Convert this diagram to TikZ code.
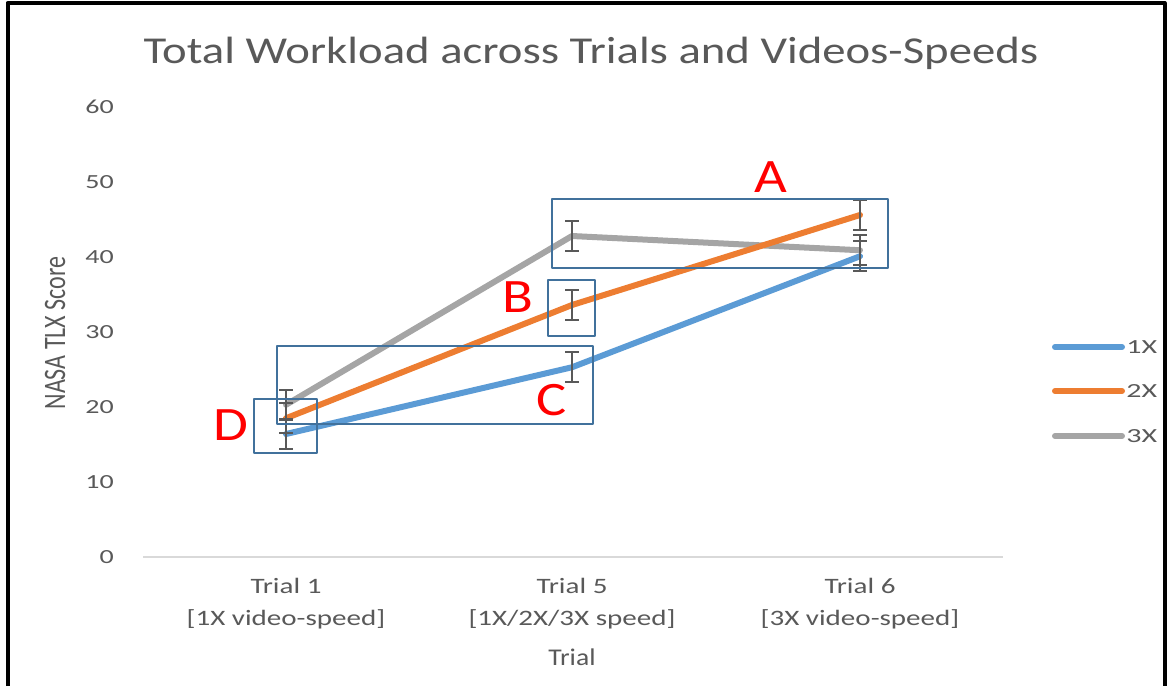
\documentclass[tikz,border=0pt]{standalone}
\usepackage{fontspec}
\setmainfont{Carlito}
\usetikzlibrary{positioning}
\definecolor{serone}{HTML}{5B9BD5}
\definecolor{sertwo}{HTML}{ED7D31}
\definecolor{serthree}{HTML}{A5A5A5}
\definecolor{txtgray}{HTML}{595959}
\definecolor{boxblue}{HTML}{41719C}
\definecolor{gridgray}{HTML}{D9D9D9}
\tikzset{
  txt/.style={text=txtgray, inner sep=0pt},
  ticklbl/.style={txt, font=\fontsize{20}{20}\selectfont, xscale=1.4, anchor=east},
  catlbl/.style={txt, font=\fontsize{22}{22}\selectfont, xscale=1.32},
  legendlbl/.style={txt, font=\fontsize{20}{20}\selectfont, xscale=1.5, anchor=west},
  serline/.style={line width=6pt},
  errbar/.style={txtgray, line width=2pt, line cap=butt},
  markbox/.style={boxblue, line width=1.3pt},
  marklbl/.style={text=red, font=\fontsize{48}{48}\selectfont, xscale=1.18, inner sep=0pt}
}
\begin{document}
\begin{tikzpicture}[x=1pt, y=1pt, line cap=round, line join=round]
  \useasboundingbox (0,0) rectangle (1167,-686);
  %--- frame
  \draw[line width=4pt, line cap=butt] (7.5,-686) -- (7.5,-3) -- (1164.5,-3) -- (1164.5,-686);
  %--- title
  \node[txt, font=\fontsize{38}{38}\selectfont, xscale=1.23] (title) at (591,-53) {Total Workload across Trials and Videos-Speeds};
  %--- y axis label
  \node[txt, font=\fontsize{24}{24}\selectfont, xscale=1.3, rotate=90] (ylbl) at (55,-333) {NASA TLX Score};
  %--- x axis label
  \node[txt, font=\fontsize{24}{24}\selectfont, xscale=1.15] (xlbl) at (572,-657) {Trial};
  \begin{scope}[shift={(0,-557)}, y=7.5pt]
    %--- axis and ticks
    \draw[gridgray, line width=1.2pt, line cap=butt] (143,0) -- (1003,0);
    \foreach \v in {0,10,...,60}
      \node[ticklbl] (tick\v) at (114,\v) {\v};
    %--- categories
    \node[catlbl] (catA) at (286,-3.9) {Trial 1};
    \node[catlbl, below=15pt of catA] {[1X video-speed]};
    \node[catlbl] (catB) at (572,-3.9) {Trial 5};
    \node[catlbl, below=15pt of catB] {[1X/2X/3X speed]};
    \node[catlbl] (catC) at (860,-3.9) {Trial 6};
    \node[catlbl, below=15pt of catC] {[3X video-speed]};
    %--- data points
    \coordinate (one1) at (286,16.4);
    \coordinate (one5) at (572,25.3);
    \coordinate (one6) at (860,40.1);
    \coordinate (two1) at (286,18.5);
    \coordinate (two5) at (572,33.6);
    \coordinate (two6) at (860,45.6);
    \coordinate (three1) at (286,20.3);
    \coordinate (three5) at (572,42.8);
    \coordinate (three6) at (860,40.9);
    %--- series
    \draw[serline, serthree] (three1) -- (three5) -- (three6);
    \draw[serline, sertwo] (two1) -- (two5) -- (two6);
    \draw[serline, serone] (one1) -- (one5) -- (one6);
    %--- error bars
    \foreach \x/\v in {286/16.4, 286/18.5, 286/20.3, 572/25.3, 572/33.6, 572/42.8, 860/40.1, 860/45.6, 860/40.9} {
      \draw[errbar] (\x,\v-2) -- (\x,\v+2);
      \draw[errbar] (\x-7,\v-2) -- (\x+7,\v-2);
      \draw[errbar] (\x-7,\v+2) -- (\x+7,\v+2);
    }
  \end{scope}
  %--- marked regions
  \draw[markbox] (552,-199) rectangle (888,-268);
  \draw[markbox] (548,-280) rectangle (595,-336);
  \draw[markbox] (277,-346) rectangle (593,-424);
  \draw[markbox] (254,-399) rectangle (317,-453);
  \node[marklbl] (lblA) at (771,-177) {A};
  \node[marklbl] (lblB) at (518,-297) {B};
  \node[marklbl] (lblC) at (552,-400) {C};
  \node[marklbl] (lblD) at (231,-425) {D};
  %--- legend
  \draw[serline, serone] (1055,-347) coordinate (legA) -- (1122,-347);
  \node[legendlbl] at (1126,-347) {1X};
  \draw[serline, sertwo] (1055,-391) coordinate (legB) -- (1122,-391);
  \node[legendlbl] at (1126,-391) {2X};
  \draw[serline, serthree] (1055,-436) coordinate (legC) -- (1122,-436);
  \node[legendlbl] at (1126,-436) {3X};
\end{tikzpicture}
\end{document}
